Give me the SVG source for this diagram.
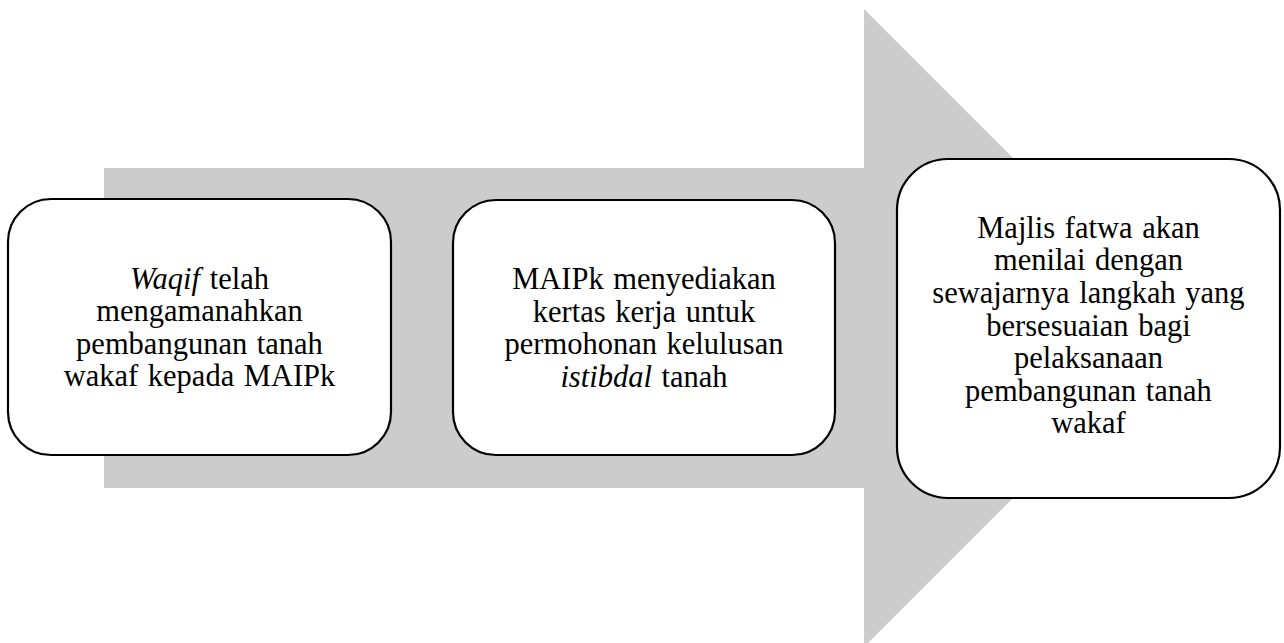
<svg xmlns="http://www.w3.org/2000/svg" width="1284" height="643" viewBox="0 0 1284 643">
<style>
.box{fill:#ffffff;stroke:#000000;stroke-width:2.2}
</style>
<rect width="1284" height="643" fill="#fff"/>
<g id="connectors">
<polygon points="104,168 864,168 864,9 1183,328 864,647 864,488 104,488" fill="#cccccc"/>
</g>
<g id="node1" font-family="Liberation Serif" font-size="30.5" text-anchor="middle" word-spacing="2">
<rect class="box" x="8" y="199" width="383" height="256" rx="43" ry="43"/>
<text x="199.5" y="288.5"><tspan font-style="italic">Waqif</tspan> telah</text>
<text x="199.5" y="321">mengamanahkan</text>
<text x="199.5" y="353.5">pembangunan tanah</text>
<text x="199.5" y="386">wakaf kepada MAIPk</text>
</g>
<g id="node2" font-family="Liberation Serif" font-size="30.5" text-anchor="middle" word-spacing="2">
<rect class="box" x="453" y="200" width="382" height="255" rx="43" ry="43"/>
<text x="644" y="289.3">MAIPk menyediakan</text>
<text x="644" y="321.8">kertas kerja untuk</text>
<text x="644" y="354.3">permohonan kelulusan</text>
<text x="644" y="386.8"><tspan font-style="italic">istibdal</tspan> tanah</text>
</g>
<g id="node3" font-family="Liberation Serif" font-size="30.5" text-anchor="middle" word-spacing="2">
<rect class="box" x="897" y="159" width="383" height="339" rx="51" ry="51"/>
<text x="1088.5" y="237.7">Majlis fatwa akan</text>
<text x="1088.5" y="270.3">menilai dengan</text>
<text x="1088.5" y="302.9">sewajarnya langkah yang</text>
<text x="1088.5" y="335.5">bersesuaian bagi</text>
<text x="1088.5" y="368.1">pelaksanaan</text>
<text x="1088.5" y="400.7">pembangunan tanah</text>
<text x="1088.5" y="433.3">wakaf</text>
</g>
</svg>
